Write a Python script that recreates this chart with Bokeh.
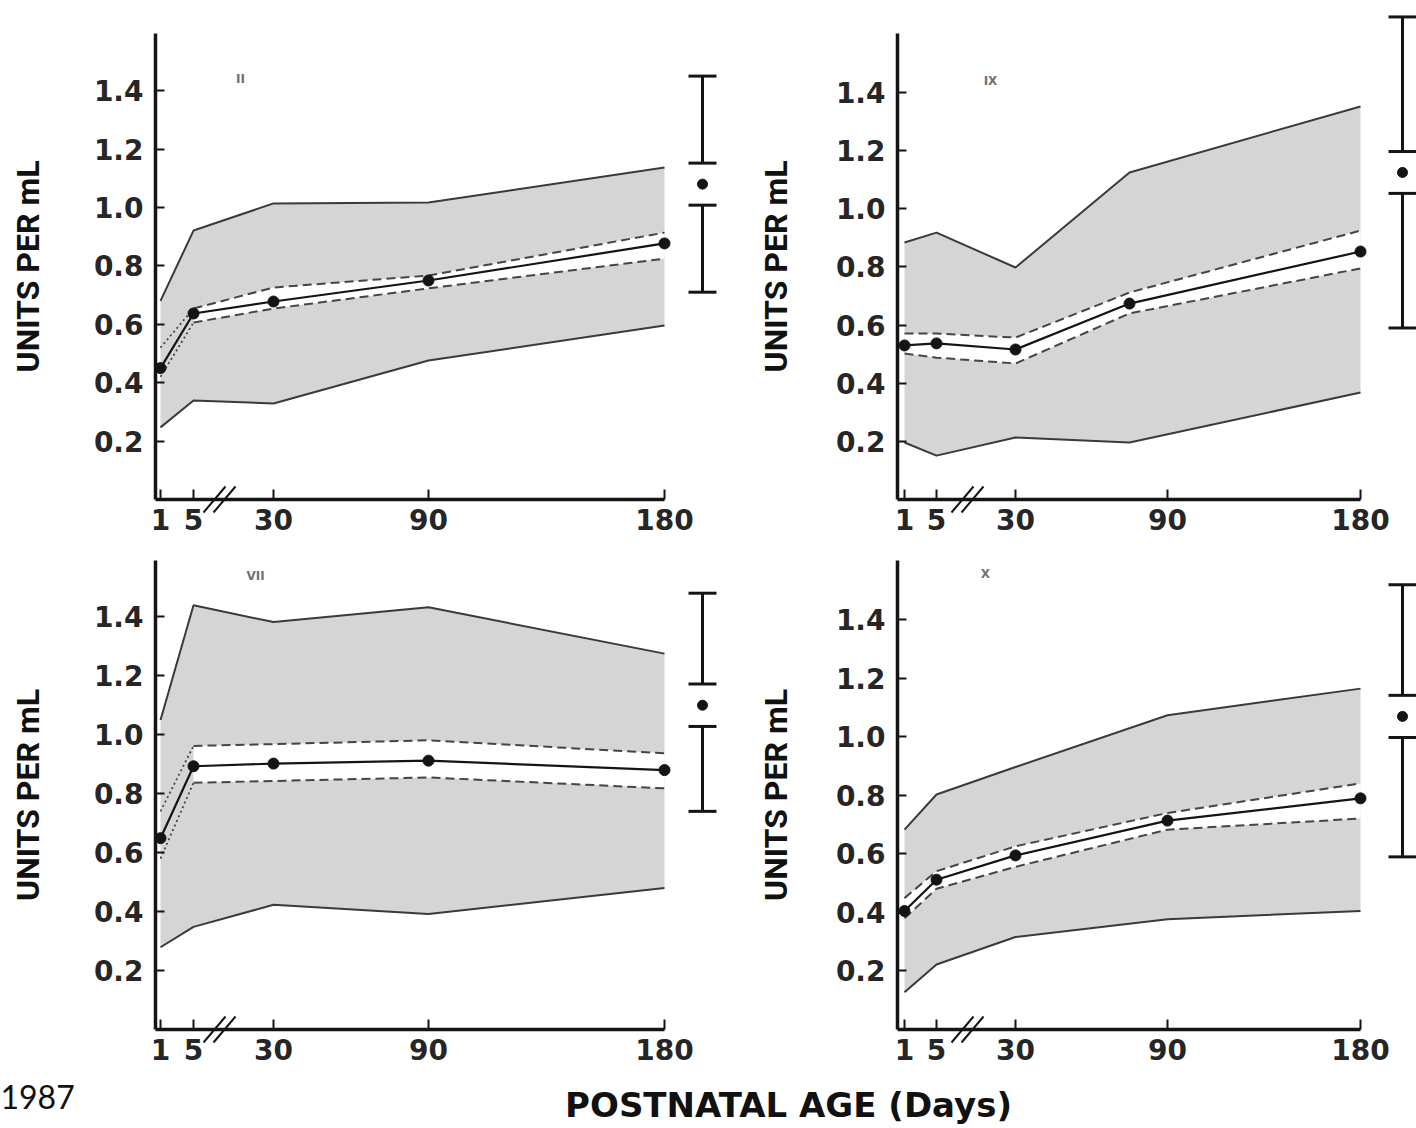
import numpy as np
from bokeh.plotting import figure
from bokeh.layouts import column, row
from bokeh.models import FixedTicker, Label, Range1d
from bokeh.embed import file_html
from bokeh.resources import INLINE

# ---------------- data ----------------
TICK_DAYS = [1, 5, 30, 90, 180]
TICK_LABELS = ["1", "5", "30", "90", "180"]
Y_TICKS = [0.2, 0.4, 0.6, 0.8, 1.0, 1.2, 1.4]
Y_TICK_LABELS = ["0.2", "0.4", "0.6", "0.8", "1.0", "1.2", "1.4"]

# Factor II
II_DAYS = [1, 5, 30, 90, 180]
II_MEAN = [0.45, 0.637, 0.678, 0.75, 0.877]
II_CI_HIGH = [0.52, 0.654, 0.726, 0.767, 0.914]
II_CI_LOW = [0.42, 0.606, 0.654, 0.723, 0.825]
II_RANGE_HIGH = [0.68, 0.921, 1.014, 1.017, 1.137]
II_RANGE_LOW = [0.247, 0.339, 0.329, 0.476, 0.596]

# Factor IX
IX_DAYS = [1, 5, 30, 75, 180]
IX_MEAN = [0.530, 0.537, 0.516, 0.674, 0.853]
IX_CI_HIGH = [0.571, 0.571, 0.557, 0.712, 0.925]
IX_CI_LOW = [0.502, 0.488, 0.468, 0.640, 0.795]
IX_RANGE_HIGH = [0.884, 0.918, 0.798, 1.125, 1.352]
IX_RANGE_LOW = [0.196, 0.151, 0.213, 0.196, 0.368]

# Factor VII
VII_DAYS = [1, 5, 30, 90, 180]
VII_MEAN = [0.649, 0.893, 0.902, 0.912, 0.880]
VII_CI_HIGH = [0.74, 0.962, 0.968, 0.981, 0.937]
VII_CI_LOW = [0.58, 0.837, 0.843, 0.855, 0.818]
VII_RANGE_HIGH = [1.05, 1.439, 1.382, 1.432, 1.275]
VII_RANGE_LOW = [0.279, 0.348, 0.423, 0.392, 0.48]

# Factor X
X_DAYS = [1, 5, 30, 90, 180]
X_MEAN = [0.405, 0.512, 0.595, 0.714, 0.790]
X_CI_HIGH = [0.449, 0.541, 0.626, 0.740, 0.841]
X_CI_LOW = [0.380, 0.481, 0.556, 0.683, 0.721]
X_RANGE_HIGH = [0.683, 0.803, 0.897, 1.074, 1.165]
X_RANGE_LOW = [0.127, 0.222, 0.316, 0.377, 0.405]

# Adult reference (mean and range)
ADULT_FACTORS = ["II", "IX", "VII", "X"]
ADULT_MEAN = [1.08, 1.125, 1.10, 1.07]
ADULT_LOW = [0.71, 0.59, 0.74, 0.59]
ADULT_HIGH = [1.45, 1.66, 1.48, 1.52]

PANEL_DATA = {
    "II": dict(days=II_DAYS, mean=II_MEAN, ci_hi=II_CI_HIGH, ci_lo=II_CI_LOW,
               r_hi=II_RANGE_HIGH, r_lo=II_RANGE_LOW),
    "IX": dict(days=IX_DAYS, mean=IX_MEAN, ci_hi=IX_CI_HIGH, ci_lo=IX_CI_LOW,
               r_hi=IX_RANGE_HIGH, r_lo=IX_RANGE_LOW),
    "VII": dict(days=VII_DAYS, mean=VII_MEAN, ci_hi=VII_CI_HIGH, ci_lo=VII_CI_LOW,
                r_hi=VII_RANGE_HIGH, r_lo=VII_RANGE_LOW),
    "X": dict(days=X_DAYS, mean=X_MEAN, ci_hi=X_CI_HIGH, ci_lo=X_CI_LOW,
              r_hi=X_RANGE_HIGH, r_lo=X_RANGE_LOW),
}

# ---------------- layout (page pixels) ----------------
COLS = {
    "left": dict(page_left=0, width=745, frame_left=155, frame_right=740,
                 tick_px=[160, 193, 273, 428, 664], bar_px=702,
                 break_px=[214, 224], ylabel_standoff=44),
    "right": dict(page_left=745, width=671, frame_left=897, frame_right=1416,
                  tick_px=[904, 936, 1015, 1167, 1360], bar_px=1402,
                  break_px=[962, 972], ylabel_standoff=38),
}
ROWS = {
    "top": dict(page_top=0, height=548, frame_top=33, zero_px=499),
    "bottom": dict(page_top=548, height=528, frame_top=560, zero_px=1029),
}
PANELS = {
    "II": dict(col="left", row="top", scale=292.0, early_dotted=True, tag_px=(240, 78)),
    "IX": dict(col="right", row="top", scale=290.7, early_dotted=False, tag_px=(990, 80)),
    "VII": dict(col="left", row="bottom", scale=294.8, early_dotted=True, tag_px=(255, 575)),
    "X": dict(col="right", row="bottom", scale=292.6, early_dotted=False, tag_px=(985, 573)),
}

FILL = "#d5d5d5"
EDGE = "#3a3a3a"
INK = "#141414"
DASH = "#454545"


def make_panel(name):
    cfg = PANELS[name]
    col = COLS[cfg["col"]]
    rw = ROWS[cfg["row"]]
    d = PANEL_DATA[name]
    scale = cfg["scale"]
    zero = rw["zero_px"]

    def py_to_y(py):
        return (zero - py) / scale

    y_end = py_to_y(rw["frame_top"])
    page_bottom = rw["page_top"] + rw["height"]
    p = figure(width=col["width"], height=rw["height"],
               x_range=Range1d(col["frame_left"], col["frame_right"]),
               y_range=Range1d(0, y_end),
               output_backend="svg", toolbar_location=None,
               min_border_left=col["frame_left"] - col["page_left"],
               min_border_right=col["page_left"] + col["width"] - col["frame_right"],
               min_border_top=rw["frame_top"] - rw["page_top"],
               min_border_bottom=int(page_bottom - zero))
    p.grid.visible = False
    p.outline_line_color = None
    p.background_fill_color = "white"
    p.border_fill_color = "white"

    tick_px = col["tick_px"]
    p.xaxis.ticker = FixedTicker(ticks=tick_px)
    p.xaxis.major_label_overrides = {t: l for t, l in zip(tick_px, TICK_LABELS)}
    p.xaxis.bounds = (col["frame_left"], tick_px[-1])
    p.xaxis.major_tick_in = 10
    p.xaxis.major_label_standoff = 9
    p.yaxis.ticker = FixedTicker(ticks=Y_TICKS)
    p.yaxis.major_label_overrides = {t: l for t, l in zip(Y_TICKS, Y_TICK_LABELS)}
    p.yaxis.major_tick_in = 9
    p.yaxis.major_label_standoff = 12
    p.yaxis.axis_label = "UNITS PER mL"
    p.yaxis.axis_label_standoff = col["ylabel_standoff"]
    p.yaxis.axis_label_text_font = "Roboto"
    p.yaxis.axis_label_text_font_style = "bold"
    p.yaxis.axis_label_text_font_size = "32px"
    p.yaxis.axis_label_text_color = "#111111"
    for ax in p.axis:
        ax.axis_line_width = 3.5
        ax.axis_line_color = INK
        ax.major_tick_line_width = 2
        ax.major_tick_line_color = INK
        ax.major_tick_out = 0
        ax.minor_tick_line_color = None
        ax.major_label_text_font = "DejaVu Sans"
        ax.major_label_text_font_style = "bold"
        ax.major_label_text_font_size = "28px"
        ax.major_label_text_color = "#262626"

    x = np.interp(d["days"], TICK_DAYS, tick_px)
    # range band
    p.varea(x=x, y1=d["r_lo"], y2=d["r_hi"], fill_color=FILL)
    p.line(x, d["r_hi"], line_color=EDGE, line_width=2)
    p.line(x, d["r_lo"], line_color=EDGE, line_width=2)
    # confidence band
    s = 1 if cfg["early_dotted"] else 0
    p.varea(x=x[s:], y1=d["ci_lo"][s:], y2=d["ci_hi"][s:], fill_color="white")
    for key in ("ci_hi", "ci_lo"):
        if cfg["early_dotted"]:
            p.line(x[:2], d[key][:2], line_color=DASH, line_width=1.8, line_dash="2 3")
            p.line(x[1:], d[key][1:], line_color=DASH, line_width=2.0, line_dash="9 5")
        else:
            p.line(x, d[key], line_color=DASH, line_width=2.0, line_dash="9 5")
    # mean
    p.line(x, d["mean"], line_color=INK, line_width=2.2)
    p.scatter(x, d["mean"], size=11, fill_color=INK, line_color=INK)

    # adult reference bar (overlay level so it may rise above the frame)
    i = ADULT_FACTORS.index(name)
    am, alo, ahi = ADULT_MEAN[i], ADULT_LOW[i], ADULT_HIGH[i]
    gap = 0.072
    bx = col["bar_px"]
    p.segment(x0=[bx, bx], y0=[alo, am + gap], x1=[bx, bx], y1=[am - gap, ahi],
              line_width=3, line_color=INK, level="overlay")
    p.scatter(x=[bx] * 4, y=[alo, am - gap, am + gap, ahi], marker="dash",
              size=28, line_width=3, line_color=INK, level="overlay")
    p.scatter(x=[bx], y=[am], size=10, fill_color=INK, line_color=INK, level="overlay")

    # axis break marks
    dy = 13 / scale
    for bpx in col["break_px"]:
        p.segment(x0=[bpx - 11], y0=[-dy], x1=[bpx + 11], y1=[dy],
                  line_width=2, line_color=INK, level="overlay")

    # factor tag
    tx, ty = cfg["tag_px"]
    p.add_layout(Label(x=tx, y=py_to_y(ty), text=name, text_align="center",
                       text_baseline="middle", text_font="DejaVu Sans",
                       text_font_style="bold", text_font_size="12px",
                       text_color="#707070"))
    return p


f_ii = make_panel("II")
f_ix = make_panel("IX")
f_vii = make_panel("VII")
f_x = make_panel("X")

T_TOP = ROWS["bottom"]["page_top"] + ROWS["bottom"]["height"]
T_H = 1128 - T_TOP
t = figure(width=1416, height=T_H, x_range=Range1d(0, 1416), y_range=Range1d(0, T_H),
           output_backend="svg", toolbar_location=None, min_border=0)
t.axis.visible = False
t.grid.visible = False
t.outline_line_color = None
t.add_layout(Label(x=788, y=1128 - 1104, text="POSTNATAL AGE (Days)", text_align="center",
                   text_baseline="middle", text_font="DejaVu Sans",
                   text_font_style="bold", text_font_size="34px", text_color="#111111"))
t.add_layout(Label(x=0, y=1128 - 1096, text="1987", text_align="left", text_baseline="middle",
                   text_font="Lato", text_font_size="32px", text_color="#111111"))

layout = column(row(f_ii, f_ix), row(f_vii, f_x), t)
open("out.html", "w").write(file_html(layout, INLINE))
